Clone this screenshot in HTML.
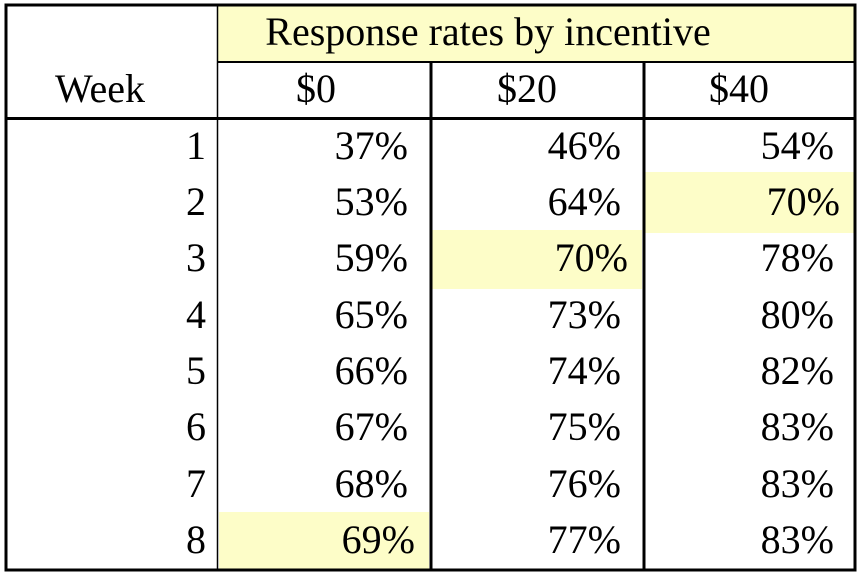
<!DOCTYPE html>
<html><head><style>body{margin:0;background:#fff}svg{display:block}text{font-family:"Liberation Serif",serif;font-size:40px;fill:#000}</style></head>
<body>
<svg width="865" height="578" viewBox="0 0 865 578">
<rect x="218" y="5" width="637" height="57" fill="#fdfdc8"/>
<rect x="219" y="512" width="210" height="57" fill="#fdfdc8"/>
<rect x="432" y="230" width="210" height="59" fill="#fdfdc8"/>
<rect x="645" y="172" width="210" height="61" fill="#fdfdc8"/>
<g stroke="#000" fill="none">
<rect x="6" y="5" width="849" height="565" stroke-width="3"/>
<line x1="217.5" y1="5" x2="217.5" y2="570" stroke-width="1.5"/>
<line x1="218" y1="62" x2="855" y2="62" stroke-width="2"/>
<line x1="6" y1="118.5" x2="855" y2="118.5" stroke-width="3"/>
<line x1="431" y1="62" x2="431" y2="570" stroke-width="3"/>
<line x1="644" y1="62" x2="644" y2="570" stroke-width="3"/>
</g>
<text x="488" y="45" text-anchor="middle">Response rates by incentive</text>
<text x="100" y="102" text-anchor="middle">Week</text>
<text x="316" y="102" text-anchor="middle">$0</text>
<text x="527" y="102" text-anchor="middle">$20</text>
<text x="739" y="102" text-anchor="middle">$40</text>
<g text-anchor="end">
<text x="206" y="159">1</text><text x="408" y="159">37%</text><text x="621" y="159">46%</text><text x="834" y="159">54%</text>
<text x="206" y="215">2</text><text x="408" y="215">53%</text><text x="621" y="215">64%</text><text x="840" y="215">70%</text>
<text x="206" y="271">3</text><text x="408" y="271">59%</text><text x="628" y="271">70%</text><text x="834" y="271">78%</text>
<text x="206" y="328">4</text><text x="408" y="328">65%</text><text x="621" y="328">73%</text><text x="834" y="328">80%</text>
<text x="206" y="384">5</text><text x="408" y="384">66%</text><text x="621" y="384">74%</text><text x="834" y="384">82%</text>
<text x="206" y="440">6</text><text x="408" y="440">67%</text><text x="621" y="440">75%</text><text x="834" y="440">83%</text>
<text x="206" y="497">7</text><text x="408" y="497">68%</text><text x="621" y="497">76%</text><text x="834" y="497">83%</text>
<text x="206" y="553">8</text><text x="415" y="553">69%</text><text x="621" y="553">77%</text><text x="834" y="553">83%</text>
</g>
</svg>
</body></html>
